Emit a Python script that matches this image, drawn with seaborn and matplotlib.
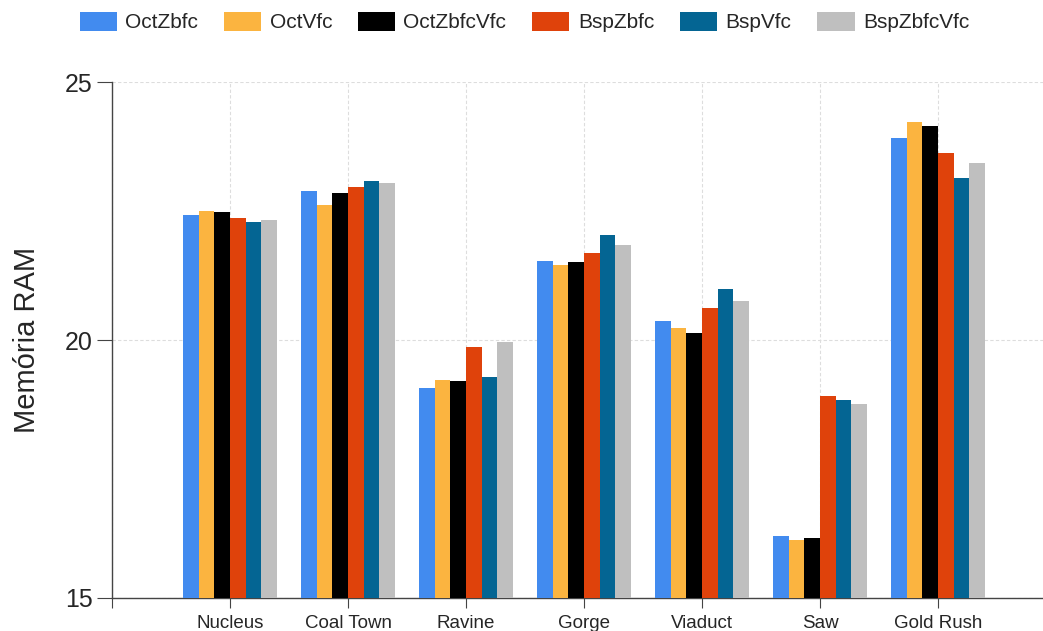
import matplotlib
matplotlib.use("Agg")
import matplotlib.pyplot as plt
import seaborn as sns
import pandas as pd

#%% data
maps = ['Nucleus', 'Coal Town', 'Ravine', 'Gorge', 'Viaduct', 'Saw', 'Gold Rush']
OctZbfc    = [22.42, 22.88, 19.07, 21.53, 20.37, 16.20, 23.91]
OctVfc     = [22.50, 22.62, 19.22, 21.45, 20.24, 16.12, 24.22]
OctZbfcVfc = [22.48, 22.85, 19.20, 21.51, 20.14, 16.16, 24.15]
BspZbfc    = [22.36, 22.97, 19.86, 21.69, 20.63, 18.91, 23.62]
BspVfc     = [22.29, 23.08, 19.28, 22.03, 20.99, 18.83, 23.14]
BspZbfcVfc = [22.33, 23.04, 19.96, 21.84, 20.76, 18.76, 23.44]

series = {'OctZbfc': OctZbfc, 'OctVfc': OctVfc, 'OctZbfcVfc': OctZbfcVfc,
          'BspZbfc': BspZbfc, 'BspVfc': BspVfc, 'BspZbfcVfc': BspZbfcVfc}
colors = ['#428bef', '#fbb440', '#000000', '#df420b', '#046593', '#bfbfbf']

rows = []
for name, vals in series.items():
    for m, v in zip(maps, vals):
        rows.append([m, name, v])
df = pd.DataFrame(rows, columns=['map', 'method', 'ram'])

#%% plot
sns.set_style('white')
plt.rcParams['font.family'] = ['Liberation Sans', 'DejaVu Sans']

fig = plt.figure(figsize=(10.43, 6.31), dpi=100)
ax = fig.add_axes([0.1074, 0.0523, 0.8926, 0.8177])
sns.barplot(data=df, x='map', y='ram', hue='method', order=maps,
            hue_order=list(series.keys()), palette=colors, width=0.8,
            saturation=1, linewidth=0, ax=ax, zorder=3)

ax.set_ylim(15, 25)
ax.set_xlim(-1, 6.89)
ax.set_yticks([15, 20, 25])
ax.set_xticks(range(-1, 7))
ax.set_xticklabels([''] + maps)
ax.tick_params(axis='y', labelsize=18, length=11, color='#444444', direction='out', left=True, pad=3)
ax.tick_params(axis='x', labelsize=13.5, length=7, color='#444444', direction='out', bottom=True, pad=5)
ax.set_xlabel('')
ax.set_ylabel('Memória RAM', fontsize=21, labelpad=17)

ax.grid(True, color='#dddddd', linestyle=(0, (3, 2)), linewidth=0.8, zorder=0)
for s in ['top', 'right']:
    ax.spines[s].set_visible(False)
for s in ['left', 'bottom']:
    ax.spines[s].set_color('#444444')
    ax.spines[s].set_linewidth(1.0)

ax.legend(loc='center', bbox_to_anchor=(0.443, 1.116), ncol=6, frameon=False,
          fontsize=15, handlelength=1.78, handleheight=1.0, handletextpad=0.4,
          columnspacing=1.25, borderaxespad=0)

fig.savefig('out.png', dpi=100)
